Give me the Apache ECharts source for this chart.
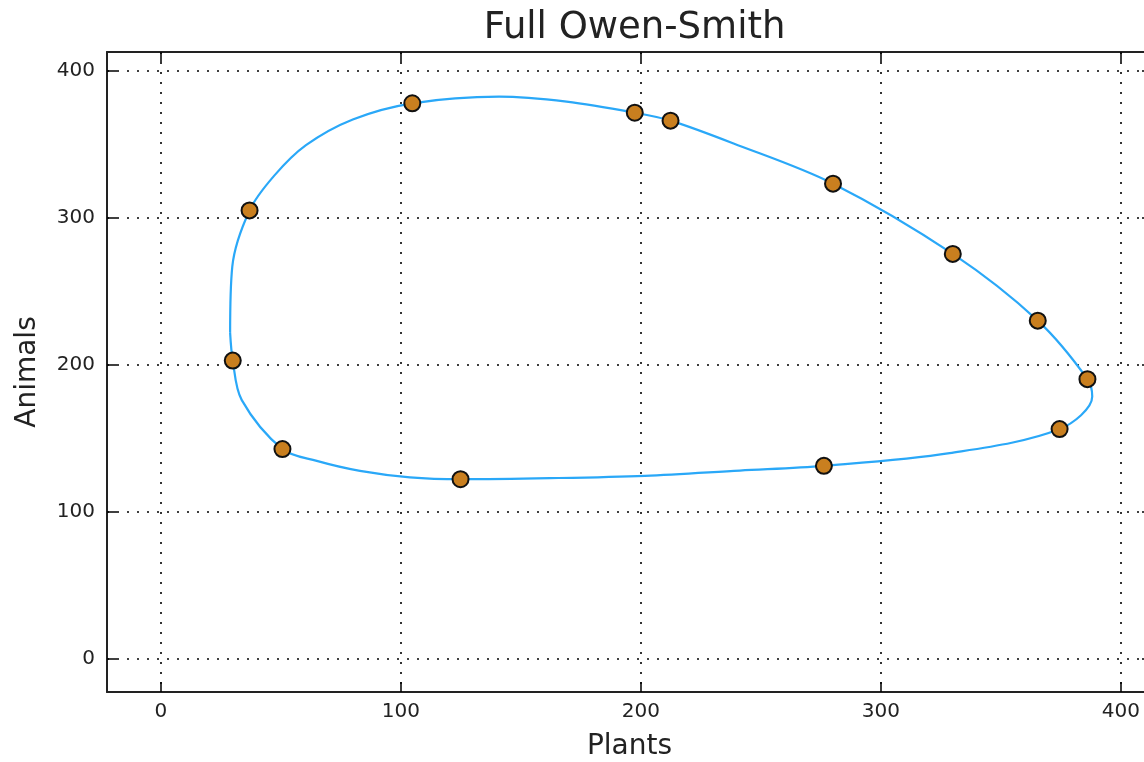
<!DOCTYPE html>
<html>
<head>
<meta charset="utf-8">
<script src="https://cdn.jsdelivr.net/npm/echarts@6/dist/echarts.min.js"></script>
<style>
html,body{margin:0;padding:0;background:#fff;}
#chart{width:1144px;height:762px;}
</style>
</head>
<body>
<div id="chart"></div>
<script>
// Smooth limit-cycle curve (Plants, Animals)
const curvePlants = [28.9, 30.0, 33.7, 50.7, 65.0, 83.0, 103.8, 124.9, 162.1, 201.7, 241.3, 276.3, 328.7, 374.5, 388.1, 386.1, 365.4, 330.0, 280.1, 238.4, 212.4, 197.5, 169.1, 141.0, 104.8, 80.0, 60.5, 47.2, 37.0, 29.8, 28.9];
const curveAnimals = [221.8, 202.9, 176.2, 142.7, 134.7, 127.9, 123.5, 122.2, 122.9, 124.5, 128.1, 131.3, 139.9, 156.3, 178.4, 190.3, 230.1, 275.5, 323.3, 350.8, 366.2, 371.6, 379.1, 382.5, 378.0, 367.0, 349.5, 328.6, 305.1, 266.9, 221.8];

// Sampled points (markers)
const pointPlants = [104.8, 197.5, 212.4, 280.1, 330.0, 365.4, 386.1, 374.5, 276.3, 124.9, 50.7, 30.0, 37.0];
const pointAnimals = [378.0, 371.6, 366.2, 323.3, 275.5, 230.1, 190.3, 156.3, 131.3, 122.2, 142.7, 202.9, 305.1];

const xTicks = [0, 100, 200, 300, 400];
const yTicks = [0, 100, 200, 300, 400];

const titleText = 'Full Owen-Smith';
const xName = 'Plants';
const yName = 'Animals';

const xMin = -22.4, xMax = 413;
const yMin = -22.6, yMax = 412.9;

const curveData = curvePlants.map((x, i) => [x, curveAnimals[i]]);
const pointData = pointPlants.map((x, i) => [x, pointAnimals[i]]);

const textColor = '#222';
const font = 'DejaVu Sans';

const gridLine = { show: true, lineStyle: { color: '#000', type: [2, 8], width: 1.6 } };
const axisLine = { show: true, onZero: false, lineStyle: { color: '#222', width: 2 } };
const tickStyle = (vals) => ({ show: true, inside: true, length: 10, customValues: vals, lineStyle: { color: '#000', width: 1.5 } });

const chart = echarts.init(document.getElementById('chart'), null, { renderer: 'canvas' });
chart.setOption({
  animation: false,
  backgroundColor: '#fff',
  title: {
    text: titleText,
    left: 629.5,
    top: 5,
    textAlign: 'center',
    textStyle: { fontFamily: font, fontSize: 37, fontWeight: 'normal', color: textColor }
  },
  grid: { left: 107, top: 52, width: 1045, height: 640, show: false, outerBoundsMode: 'none', containLabel: false },
  xAxis: [{
    type: 'value', min: xMin, max: xMax, position: 'bottom',
    name: xName, nameLocation: 'middle', nameGap: 41,
    nameTextStyle: { fontFamily: font, fontSize: 28, color: textColor },
    axisLine: axisLine,
    axisTick: tickStyle(xTicks),
    axisLabel: { customValues: xTicks, margin: 10, fontFamily: font, fontSize: 20, color: textColor },
    splitLine: gridLine
  }, {
    type: 'value', min: xMin, max: xMax, position: 'top',
    axisLine: axisLine,
    axisTick: tickStyle(xTicks),
    axisLabel: { show: false },
    splitLine: { show: false }
  }],
  yAxis: [{
    type: 'value', min: yMin, max: yMax, position: 'left',
    name: yName, nameLocation: 'middle', nameGap: 65,
    nameTextStyle: { fontFamily: font, fontSize: 28, color: textColor },
    axisLine: axisLine,
    axisTick: tickStyle(yTicks),
    axisLabel: { customValues: yTicks, margin: 12, fontFamily: font, fontSize: 20, color: textColor },
    splitLine: gridLine
  }, {
    type: 'value', min: yMin, max: yMax, position: 'right',
    axisLine: axisLine,
    axisTick: tickStyle(yTicks),
    axisLabel: { show: false },
    splitLine: { show: false }
  }],
  series: [{
    type: 'line',
    data: curveData,
    smooth: 0.33,
    showSymbol: false,
    symbol: 'none',
    lineStyle: { color: '#2aa8f8', width: 2.2 },
    z: 2
  }, {
    type: 'scatter',
    data: pointData,
    symbol: 'circle',
    symbolSize: 16,
    itemStyle: { color: '#c97f1f', borderColor: '#111', borderWidth: 2, opacity: 1 },
    z: 3
  }]
});
</script>
</body>
</html>
